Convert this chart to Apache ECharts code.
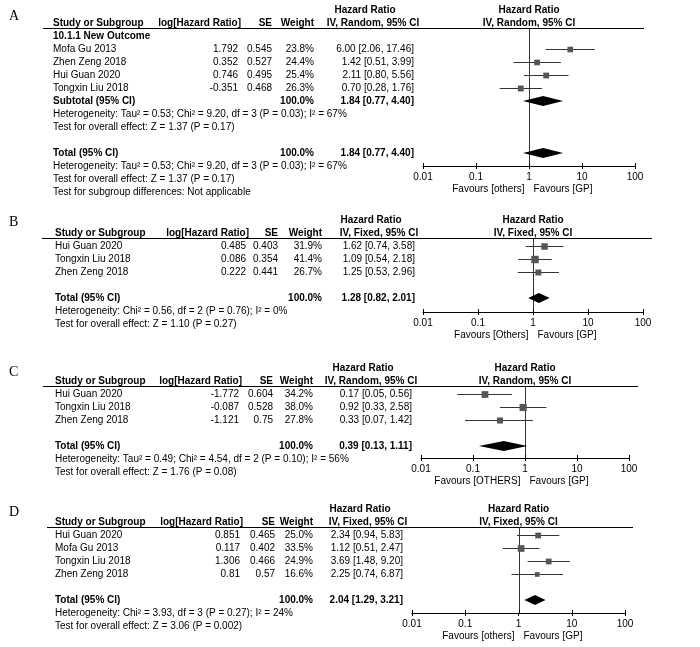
<!DOCTYPE html>
<html><head><meta charset="utf-8">
<script src="https://cdn.jsdelivr.net/npm/echarts/dist/echarts.min.js"></script>
<style>html,body{margin:0;padding:0;background:#fff}#c{width:700px;height:647px}</style>
</head><body><div id="c"></div>
<script>
// ---------------- DATA ----------------
const tickLabels = ['0.01', '0.1', '1', '10', '100'];

// Panel A
const A_studies = ['Mofa Gu 2013', 'Zhen Zeng 2018', 'Hui Guan 2020', 'Tongxin Liu 2018'];
const A_logHR = [1.792, 0.352, 0.746, -0.351];
const A_se = [0.545, 0.527, 0.495, 0.468];
const A_weight = [23.8, 24.4, 25.4, 26.3];
const A_hr = [6.00, 1.42, 2.11, 0.70];
const A_lo = [2.06, 0.51, 0.80, 0.28];
const A_hi = [17.46, 3.99, 5.56, 1.76];
const A_subtotal = [1.84, 0.77, 4.40];
const A_total = [1.84, 0.77, 4.40];
const A_het = 'Heterogeneity: Tau\u00b2 = 0.53; Chi\u00b2 = 9.20, df = 3 (P = 0.03); I\u00b2 = 67%';
const A_test = 'Test for overall effect: Z = 1.37 (P = 0.17)';
const A_sub = 'Test for subgroup differences: Not applicable';

// Panel B
const B_studies = ['Hui Guan 2020', 'Tongxin Liu 2018', 'Zhen Zeng 2018'];
const B_logHR = [0.485, 0.086, 0.222];
const B_se = [0.403, 0.354, 0.441];
const B_weight = [31.9, 41.4, 26.7];
const B_hr = [1.62, 1.09, 1.25];
const B_lo = [0.74, 0.54, 0.53];
const B_hi = [3.58, 2.18, 2.96];
const B_total = [1.28, 0.82, 2.01];
const B_het = 'Heterogeneity: Chi\u00b2 = 0.56, df = 2 (P = 0.76); I\u00b2 = 0%';
const B_test = 'Test for overall effect: Z = 1.10 (P = 0.27)';

// Panel C
const C_studies = ['Hui Guan 2020', 'Tongxin Liu 2018', 'Zhen Zeng 2018'];
const C_logHR = [-1.772, -0.087, -1.121];
const C_se = [0.604, 0.528, 0.75];
const C_weight = [34.2, 38.0, 27.8];
const C_hr = [0.17, 0.92, 0.33];
const C_lo = [0.05, 0.33, 0.07];
const C_hi = [0.56, 2.58, 1.42];
const C_total = [0.39, 0.13, 1.11];
const C_het = 'Heterogeneity: Tau\u00b2 = 0.49; Chi\u00b2 = 4.54, df = 2 (P = 0.10); I\u00b2 = 56%';
const C_test = 'Test for overall effect: Z = 1.76 (P = 0.08)';

// Panel D
const D_studies = ['Hui Guan 2020', 'Mofa Gu 2013', 'Tongxin Liu 2018', 'Zhen Zeng 2018'];
const D_logHR = [0.851, 0.117, 1.306, 0.81];
const D_se = [0.465, 0.402, 0.466, 0.57];
const D_weight = [25.0, 33.5, 24.9, 16.6];
const D_hr = [2.34, 1.12, 3.69, 2.25];
const D_lo = [0.94, 0.51, 1.48, 0.74];
const D_hi = [5.83, 2.47, 9.20, 6.87];
const D_total = [2.04, 1.29, 3.21];
const D_het = 'Heterogeneity: Chi\u00b2 = 3.93, df = 3 (P = 0.27); I\u00b2 = 24%';
const D_test = 'Test for overall effect: Z = 3.06 (P = 0.002)';

// ---------------- PANELS ----------------
const panels = [
  {letter:'A', model:'IV, Random, 95% CI', group:'10.1.1 New Outcome', studies:A_studies, logHR:A_logHR, se:A_se, weight:A_weight, hr:A_hr, lo:A_lo, hi:A_hi, subtotal:A_subtotal, total:A_total, het:A_het, test:A_test, extra:A_sub, favL:'Favours [others]', favR:'Favours [GP]'},
  {letter:'B', model:'IV, Fixed, 95% CI', studies:B_studies, logHR:B_logHR, se:B_se, weight:B_weight, hr:B_hr, lo:B_lo, hi:B_hi, total:B_total, het:B_het, test:B_test, favL:'Favours [Others]', favR:'Favours [GP]'},
  {letter:'C', model:'IV, Random, 95% CI', studies:C_studies, logHR:C_logHR, se:C_se, weight:C_weight, hr:C_hr, lo:C_lo, hi:C_hi, total:C_total, het:C_het, test:C_test, favL:'Favours [OTHERS]', favR:'Favours [GP]'},
  {letter:'D', model:'IV, Fixed, 95% CI', studies:D_studies, logHR:D_logHR, se:D_se, weight:D_weight, hr:D_hr, lo:D_lo, hi:D_hi, total:D_total, het:D_het, test:D_test, favL:'Favours [others]', favR:'Favours [GP]'}
];

// layout (pixels)
const layouts = [
  {y0:36,  dy:13, lineY:28,  axisY:166, x0:423, x1:635, lineL:43, lineR:644, letterY:17,  study:53, log:238, se:272, w:314, ci:414, hrC:365},
  {y0:246, dy:13, lineY:238, axisY:312, x0:423, x1:643, lineL:42, lineR:652, letterY:223, study:55, log:246, se:278, w:322, ci:415, hrC:371},
  {y0:394, dy:13, lineY:386, axisY:458, x0:421, x1:629, lineL:43, lineR:638, letterY:373, study:55, log:239, se:273, w:313, ci:412, hrC:363},
  {y0:535, dy:13, lineY:527, axisY:613, x0:412, x1:625, lineL:47, lineR:633, letterY:513, study:55, log:240, se:275, w:313, ci:403, hrC:360}
];

const FONT = '"Liberation Sans", Arial, sans-serif';
const f = (b) => (b ? 'bold ' : '') + '10px ' + FONT;
const ciText = (h, l, u) => h.toFixed(2) + ' [' + l.toFixed(2) + ', ' + u.toFixed(2) + ']';
const tickValues = tickLabels.map(Number);

const grids = [], xAxes = [], yAxes = [], series = [], graphics = [];

panels.forEach((P, i) => {
  const L = layouts[i];
  const ymin = (L.lineY - L.y0) / L.dy;
  const ymax = (L.axisY - L.y0) / L.dy;
  grids.push({left: L.x0, top: L.lineY, width: L.x1 - L.x0, height: L.axisY - L.lineY, containLabel: false, outerBoundsMode: 'none'});
  xAxes.push({
    type: 'log', logBase: 10, min: 0.01, max: 100, gridIndex: i, position: 'bottom',
    splitLine: {show: false}, minorTick: {show: false},
    axisLine: {show: true, onZero: false, lineStyle: {color: '#000', width: 1}},
    axisTick: {show: true, length: 3, inside: false, lineStyle: {color: '#000'}},
    axisLabel: {show: true, fontSize: 10, fontFamily: FONT, color: '#000', margin: 6,
      formatter: (v) => tickLabels[Math.round(Math.log10(v)) + 2]}
  });
  yAxes.push({type: 'value', gridIndex: i, min: ymin, max: ymax, inverse: true, show: false});

  // rows
  let r = 0;
  const items = [];
  const add = (row, text, x, align, bold, dataX) => items.push({row, text, x, align, bold, dataX});
  add(-2, 'Hazard Ratio', L.hrC, 'center', true);
  add(-2, 'Hazard Ratio', null, 'center', true, true);
  add(-1, 'Study or Subgroup', L.study, 'left', true);
  add(-1, 'log[Hazard Ratio]', L.log + 3, 'right', true);
  add(-1, 'SE', L.se, 'right', true);
  add(-1, 'Weight', L.w, 'right', true);
  add(-1, P.model, L.hrC + 8, 'center', true);
  add(-1, P.model, null, 'center', true, true);
  if (P.group) { add(r, P.group, L.study, 'left', true); r++; }
  const studyRows = [];
  P.studies.forEach((s, k) => {
    studyRows.push(r);
    add(r, s, L.study, 'left', false);
    add(r, String(P.logHR[k]), L.log, 'right', false);
    add(r, String(P.se[k]), L.se, 'right', false);
    add(r, P.weight[k].toFixed(1) + '%', L.w, 'right', false);
    add(r, ciText(P.hr[k], P.lo[k], P.hi[k]), L.ci, 'right', false);
    r++;
  });
  const diamonds = [];
  if (P.subtotal) {
    add(r, 'Subtotal (95% CI)', L.study, 'left', true);
    add(r, '100.0%', L.w, 'right', true);
    add(r, ciText(P.subtotal[0], P.subtotal[1], P.subtotal[2]), L.ci, 'right', true);
    diamonds.push([P.subtotal[0], r, P.subtotal[1], P.subtotal[2]]);
    r++;
    add(r++, P.het, L.study, 'left', false);
    add(r++, P.test, L.study, 'left', false);
  }
  r++;
  add(r, 'Total (95% CI)', L.study, 'left', true);
  add(r, '100.0%', L.w, 'right', true);
  add(r, ciText(P.total[0], P.total[1], P.total[2]), L.ci, 'right', true);
  diamonds.push([P.total[0], r, P.total[1], P.total[2]]);
  r++;
  add(r++, P.het, L.study, 'left', false);
  add(r++, P.test, L.study, 'left', false);
  if (P.extra) add(r++, P.extra, L.study, 'left', false);

  // frame: header rule, vertical line at 1, inner ticks, favours labels
  series.push({
    type: 'custom', xAxisIndex: i, yAxisIndex: i, silent: true, clip: false, z: 1,
    data: [[1, 0]],
    renderItem: (params, api) => {
      const t = api.coord([1, ymin]);
      const b = api.coord([1, ymax]);
      const cx = Math.round(t[0]) + 0.5;
      const ty = Math.round(t[1]) + 0.5;
      const by = Math.round(b[1]);
      const children = [
        {type: 'line', shape: {x1: L.lineL, y1: ty, x2: L.lineR, y2: ty}, style: {stroke: '#000', lineWidth: 1}},
        {type: 'line', shape: {x1: cx, y1: ty, x2: cx, y2: by}, style: {stroke: '#333', lineWidth: 1}},
        {type: 'text', x: cx - 5, y: b[1] + 23, style: {text: P.favL, font: f(false), fill: '#000', align: 'right', verticalAlign: 'middle'}},
        {type: 'text', x: cx + 4, y: b[1] + 23, style: {text: P.favR, font: f(false), fill: '#000', align: 'left', verticalAlign: 'middle'}}
      ];
      tickValues.forEach(v => {
        const p = api.coord([v, ymax]);
        const x = Math.round(p[0]) + 0.5;
        children.push({type: 'line', shape: {x1: x, y1: by - 3, x2: x, y2: by}, style: {stroke: '#000', lineWidth: 1}});
      });
      return {type: 'group', children};
    }
  });
  // study squares + CIs
  series.push({
    type: 'custom', xAxisIndex: i, yAxisIndex: i, silent: true, clip: false, z: 3,
    data: P.studies.map((s, k) => [P.hr[k], studyRows[k], P.lo[k], P.hi[k], P.weight[k]]),
    renderItem: (params, api) => {
      const c = api.coord([api.value(0), api.value(1)]);
      const lo = api.coord([api.value(2), api.value(1)]);
      const hi = api.coord([api.value(3), api.value(1)]);
      const y = Math.round(c[1]) + 0.5;
      const s = 1.15 * Math.sqrt(api.value(4));
      return {type: 'group', children: [
        {type: 'line', shape: {x1: lo[0], y1: y, x2: hi[0], y2: y}, style: {stroke: '#333', lineWidth: 1}},
        {type: 'rect', shape: {x: c[0] - s / 2, y: y - s / 2, width: s, height: s}, style: {fill: '#555'}}
      ]};
    }
  });
  // diamonds
  series.push({
    type: 'custom', xAxisIndex: i, yAxisIndex: i, silent: true, clip: false, z: 4,
    data: diamonds,
    renderItem: (params, api) => {
      const c = api.coord([api.value(0), api.value(1)]);
      const lo = api.coord([api.value(2), api.value(1)]);
      const hi = api.coord([api.value(3), api.value(1)]);
      const h = 5;
      return {type: 'polygon', shape: {points: [[lo[0], c[1]], [c[0], c[1] - h], [hi[0], c[1]], [c[0], c[1] + h]]}, style: {fill: '#000'}};
    }
  });
  // table text
  series.push({
    type: 'custom', xAxisIndex: i, yAxisIndex: i, silent: true, clip: false, z: 5,
    data: items.map(it => [1, it.row]),
    renderItem: (params, api) => {
      const it = items[params.dataIndex];
      const p = api.coord([1, it.row]);
      return {type: 'text', x: it.dataX ? p[0] : it.x, y: p[1],
        style: {text: it.text, font: f(it.bold), fill: '#000', align: it.align, verticalAlign: 'middle'}};
    }
  });
  graphics.push({type: 'text', left: 9, top: L.letterY - 8, style: {text: P.letter, font: '14px "Liberation Serif", "Times New Roman", serif', fill: '#000'}});
});

const chart = echarts.init(document.getElementById('c'), null, {renderer: 'canvas'});
chart.setOption({
  animation: false,
  backgroundColor: '#fff',
  grid: grids, xAxis: xAxes, yAxis: yAxes, series: series, graphic: graphics
});
</script></body></html>
